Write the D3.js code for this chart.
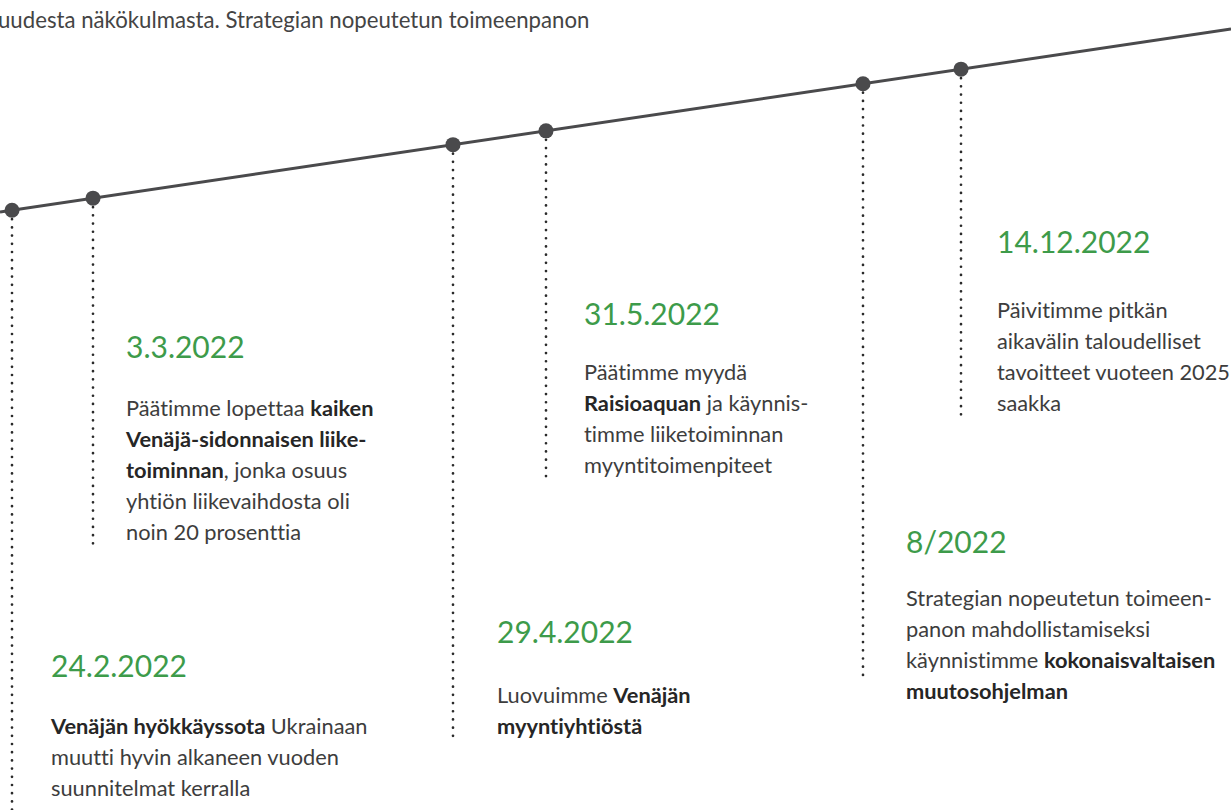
<!DOCTYPE html>
<html>
<head>
<meta charset="utf-8">
<script src="https://cdn.jsdelivr.net/npm/d3@7"></script>
<style>
  html, body { margin: 0; padding: 0; background: #fff; }
  svg { display: block; }
  text {
    font-family: Lato, "Open Sans", sans-serif;
    white-space: pre;
    font-variant-ligatures: none;
    font-feature-settings: "liga" 0;
  }
</style>
</head>
<body>
<svg id="chart" width="1231" height="810"></svg>
<script>
'use strict';

// events along the timeline
const dates = ["24.2.2022", "3.3.2022", "29.4.2022", "31.5.2022", "8/2022", "14.12.2022"];

// description lines, **bold** parts marked, lines split by |
const descriptions = [
    "**Venäjän hyökkäyssota** Ukrainaan|muutti hyvin alkaneen vuoden|suunnitelmat kerralla",
    "Päätimme lopettaa **kaiken**|**Venäjä-sidonnaisen liike-**|**toiminnan**, jonka osuus|yhtiön liikevaihdosta oli|noin 20 prosenttia",
    "Luovuimme **Venäjän**|**myyntiyhtiöstä**",
    "Päätimme myydä|**Raisioaquan** ja käynnis-|timme liiketoiminnan|myyntitoimenpiteet",
    "Strategian nopeutetun toimeen-|panon mahdollistamiseksi|käynnistimme **kokonaisvaltaisen**|**muutosohjelman**",
    "Päivitimme pitkän|aikavälin taloudelliset|tavoitteet vuoteen 2025|saakka"
];

// the intro text line cut at the top of the page
const introText = "uudesta näkökulmasta. Strategian nopeutetun toimeenpanon";

// layout (not data): marker columns and text block placement
const markerX = [12, 93, 453, 546, 863, 961];
const textX = [51, 126, 497, 584, 906, 997];
const dateBaseline = [677, 358, 643, 325, 553, 253];
const bodyBaseline = [734, 416, 703, 380, 606, 318];
const stemEnd = [812, 548, 742, 483, 678, 417];

const width = 1231, height = 810;
const lineHeight = 31;

const svg = d3.select("#chart");

// the timeline is a straight rising line across the page
const lineY = d3.scaleLinear().domain([0, width]).range([212, 29]);
const x = d3.scaleOrdinal().domain(dates).range(markerX);

// intro text
svg.append("text")
    .attr("x", -2)
    .attr("y", 28)
    .attr("font-size", 22.2)
    .attr("fill", "#444")
    .text(introText);

// dotted stems
svg.append("g").selectAll("line")
    .data(dates)
    .enter().append("line")
    .attr("x1", d => x(d))
    .attr("x2", d => x(d))
    .attr("y1", d => lineY(x(d)) + 9)
    .attr("y2", (d, i) => stemEnd[i])
    .attr("stroke", "#2a2a2a")
    .attr("stroke-width", 2.7)
    .attr("stroke-linecap", "round")
    .attr("stroke-dasharray", "0 8.2");

// main line
svg.append("line")
    .attr("x1", 0)
    .attr("x2", width)
    .attr("y1", lineY(0))
    .attr("y2", lineY(width))
    .attr("stroke", "#4a4a4c")
    .attr("stroke-width", 3);

// markers
svg.append("g").selectAll("circle")
    .data(dates)
    .enter().append("circle")
    .attr("cx", d => x(d))
    .attr("cy", d => lineY(x(d)))
    .attr("r", 7.5)
    .attr("fill", "#4a4a4c");

// date labels
svg.append("g").selectAll("text")
    .data(dates)
    .enter().append("text")
    .attr("x", (d, i) => textX[i])
    .attr("y", (d, i) => dateBaseline[i])
    .attr("font-size", 30)
    .attr("fill", "#3d9b4a")
    .text(d => d);

// description blocks
function parseLine(line) {
    const parts = line.split("**");
    return parts.map((p, k) => ({ text: p, bold: k % 2 === 1 })).filter(p => p.text.length > 0);
}

descriptions.forEach(function (desc, i) {
    const lines = desc.split("|");
    const g = svg.append("g");
    lines.forEach(function (line, j) {
        const t = g.append("text")
            .attr("x", textX[i])
            .attr("y", bodyBaseline[i] + j * lineHeight)
            .attr("font-size", 21.8);
        parseLine(line).forEach(function (seg) {
            t.append("tspan")
                .attr("fill", seg.bold ? "#262626" : "#3d3d3d")
                .attr("font-weight", seg.bold ? 700 : 400)
                .text(seg.text);
        });
    });
});
</script>
</body>
</html>
